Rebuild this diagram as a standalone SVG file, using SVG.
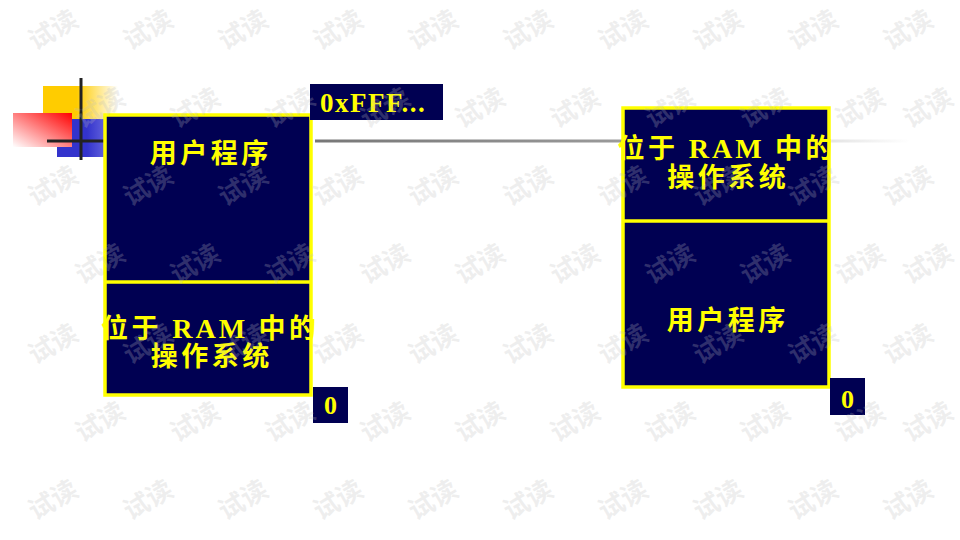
<svg xmlns="http://www.w3.org/2000/svg" width="960" height="540" viewBox="0 0 960 540">
<style>
.mem{fill:#000052;stroke:#ffff00;stroke-width:3.5}
.div{stroke:#ffff00;stroke-width:3.5}
.lbl{fill:#000052}
.cjk{font-family:"Liberation Serif","Noto Sans CJK SC",serif;font-size:27px;font-weight:bold;fill:#ffff00;text-anchor:middle;letter-spacing:3.5px}
.ram{font-family:"Liberation Serif",serif;font-size:28px;font-weight:bold;letter-spacing:3px}
.rom{font-family:"Liberation Serif",serif;font-weight:bold;fill:#ffff00}
.wm{font-family:"Noto Sans CJK SC",sans-serif;font-size:26px;font-weight:bold;fill:#bebebe;fill-opacity:0.25;text-anchor:middle}
</style>
<defs>
<linearGradient id="gY" x1="0" y1="0" x2="1" y2="0"><stop offset="0.45" stop-color="#ffcc00"/><stop offset="1" stop-color="#ffcc00" stop-opacity="0"/></linearGradient>
<linearGradient id="gR" x1="0" y1="1" x2="1" y2="0"><stop offset="0" stop-color="#ffffff"/><stop offset="1" stop-color="#ff0000"/></linearGradient>
<linearGradient id="gB" x1="0" y1="0" x2="1" y2="0"><stop offset="0.6" stop-color="#3333cc"/><stop offset="1" stop-color="#6666dd"/></linearGradient>
<linearGradient id="gL" gradientUnits="userSpaceOnUse" x1="315" y1="0" x2="910" y2="0"><stop offset="0" stop-color="#777777"/><stop offset="0.5" stop-color="#999999"/><stop offset="1" stop-color="#ffffff"/></linearGradient>
</defs>
<rect width="960" height="540" fill="#ffffff"/>
<g id="decoration">
<rect x="43" y="86" width="75" height="33" fill="url(#gY)"/>
<rect x="57" y="119" width="50" height="38" fill="url(#gB)"/>
<rect x="13" y="113" width="59" height="34" fill="url(#gR)"/>
<line x1="81" y1="78" x2="81" y2="160" stroke="#222222" stroke-width="3"/>
<line x1="47" y1="141" x2="106" y2="141" stroke="#222222" stroke-width="3"/>
</g>
<g id="connectors">
<line x1="315" y1="141" x2="910" y2="141" stroke="url(#gL)" stroke-width="3"/>
</g>
<g id="left-memory">
<rect class="mem" x="105" y="115" width="206" height="280"/>
<line class="div" x1="105" y1="282" x2="311" y2="282"/>
<text class="cjk" x="210.75" y="163">用户程序</text>
<text class="cjk" x="210.25" y="337.5">位于 <tspan class="ram">RAM</tspan> 中的</text>
<text class="cjk" x="211.75" y="366">操作系统</text>
</g>
<g id="right-memory">
<rect class="mem" x="623" y="108" width="206" height="279"/>
<line class="div" x1="623" y1="221" x2="829" y2="221"/>
<text class="cjk" x="726.75" y="158">位于 <tspan class="ram">RAM</tspan> 中的</text>
<text class="cjk" x="728.25" y="187">操作系统</text>
<text class="cjk" x="727.75" y="330">用户程序</text>
</g>
<g id="label-top">
<rect class="lbl" x="310" y="84" width="133" height="36"/>
<text class="rom" x="320" y="112" font-size="27" letter-spacing="1.5">0xFFF...</text>
</g>
<g id="label-zero-left">
<rect class="lbl" x="313" y="387" width="35" height="36"/>
<text class="rom" x="330.5" y="413.5" font-size="26" text-anchor="middle">0</text>
</g>
<g id="label-zero-right">
<rect class="lbl" x="830" y="378" width="35" height="37"/>
<text class="rom" x="847.5" y="407.5" font-size="26" text-anchor="middle">0</text>
</g>
<g id="watermark">
<text class="wm" transform="translate(53,30) rotate(-30)" y="9">试读</text>
<text class="wm" transform="translate(148,30) rotate(-30)" y="9">试读</text>
<text class="wm" transform="translate(243,30) rotate(-30)" y="9">试读</text>
<text class="wm" transform="translate(338,30) rotate(-30)" y="9">试读</text>
<text class="wm" transform="translate(433,30) rotate(-30)" y="9">试读</text>
<text class="wm" transform="translate(528,30) rotate(-30)" y="9">试读</text>
<text class="wm" transform="translate(623,30) rotate(-30)" y="9">试读</text>
<text class="wm" transform="translate(718,30) rotate(-30)" y="9">试读</text>
<text class="wm" transform="translate(813,30) rotate(-30)" y="9">试读</text>
<text class="wm" transform="translate(908,30) rotate(-30)" y="9">试读</text>
<text class="wm" transform="translate(100,108) rotate(-30)" y="9">试读</text>
<text class="wm" transform="translate(195,108) rotate(-30)" y="9">试读</text>
<text class="wm" transform="translate(290,108) rotate(-30)" y="9">试读</text>
<text class="wm" transform="translate(385,108) rotate(-30)" y="9">试读</text>
<text class="wm" transform="translate(480,108) rotate(-30)" y="9">试读</text>
<text class="wm" transform="translate(575,108) rotate(-30)" y="9">试读</text>
<text class="wm" transform="translate(670,108) rotate(-30)" y="9">试读</text>
<text class="wm" transform="translate(765,108) rotate(-30)" y="9">试读</text>
<text class="wm" transform="translate(860,108) rotate(-30)" y="9">试读</text>
<text class="wm" transform="translate(928,108) rotate(-30)" y="9">试读</text>
<text class="wm" transform="translate(53,186) rotate(-30)" y="9">试读</text>
<text class="wm" transform="translate(148,186) rotate(-30)" y="9">试读</text>
<text class="wm" transform="translate(243,186) rotate(-30)" y="9">试读</text>
<text class="wm" transform="translate(338,186) rotate(-30)" y="9">试读</text>
<text class="wm" transform="translate(433,186) rotate(-30)" y="9">试读</text>
<text class="wm" transform="translate(528,186) rotate(-30)" y="9">试读</text>
<text class="wm" transform="translate(623,186) rotate(-30)" y="9">试读</text>
<text class="wm" transform="translate(718,186) rotate(-30)" y="9">试读</text>
<text class="wm" transform="translate(813,186) rotate(-30)" y="9">试读</text>
<text class="wm" transform="translate(908,186) rotate(-30)" y="9">试读</text>
<text class="wm" transform="translate(100,264) rotate(-30)" y="9">试读</text>
<text class="wm" transform="translate(195,264) rotate(-30)" y="9">试读</text>
<text class="wm" transform="translate(290,264) rotate(-30)" y="9">试读</text>
<text class="wm" transform="translate(385,264) rotate(-30)" y="9">试读</text>
<text class="wm" transform="translate(480,264) rotate(-30)" y="9">试读</text>
<text class="wm" transform="translate(575,264) rotate(-30)" y="9">试读</text>
<text class="wm" transform="translate(670,264) rotate(-30)" y="9">试读</text>
<text class="wm" transform="translate(765,264) rotate(-30)" y="9">试读</text>
<text class="wm" transform="translate(860,264) rotate(-30)" y="9">试读</text>
<text class="wm" transform="translate(928,264) rotate(-30)" y="9">试读</text>
<text class="wm" transform="translate(53,344) rotate(-30)" y="9">试读</text>
<text class="wm" transform="translate(148,344) rotate(-30)" y="9">试读</text>
<text class="wm" transform="translate(243,344) rotate(-30)" y="9">试读</text>
<text class="wm" transform="translate(338,344) rotate(-30)" y="9">试读</text>
<text class="wm" transform="translate(433,344) rotate(-30)" y="9">试读</text>
<text class="wm" transform="translate(528,344) rotate(-30)" y="9">试读</text>
<text class="wm" transform="translate(623,344) rotate(-30)" y="9">试读</text>
<text class="wm" transform="translate(718,344) rotate(-30)" y="9">试读</text>
<text class="wm" transform="translate(813,344) rotate(-30)" y="9">试读</text>
<text class="wm" transform="translate(908,344) rotate(-30)" y="9">试读</text>
<text class="wm" transform="translate(100,422) rotate(-30)" y="9">试读</text>
<text class="wm" transform="translate(195,422) rotate(-30)" y="9">试读</text>
<text class="wm" transform="translate(290,422) rotate(-30)" y="9">试读</text>
<text class="wm" transform="translate(385,422) rotate(-30)" y="9">试读</text>
<text class="wm" transform="translate(480,422) rotate(-30)" y="9">试读</text>
<text class="wm" transform="translate(575,422) rotate(-30)" y="9">试读</text>
<text class="wm" transform="translate(670,422) rotate(-30)" y="9">试读</text>
<text class="wm" transform="translate(765,422) rotate(-30)" y="9">试读</text>
<text class="wm" transform="translate(860,422) rotate(-30)" y="9">试读</text>
<text class="wm" transform="translate(928,422) rotate(-30)" y="9">试读</text>
<text class="wm" transform="translate(53,500) rotate(-30)" y="9">试读</text>
<text class="wm" transform="translate(148,500) rotate(-30)" y="9">试读</text>
<text class="wm" transform="translate(243,500) rotate(-30)" y="9">试读</text>
<text class="wm" transform="translate(338,500) rotate(-30)" y="9">试读</text>
<text class="wm" transform="translate(433,500) rotate(-30)" y="9">试读</text>
<text class="wm" transform="translate(528,500) rotate(-30)" y="9">试读</text>
<text class="wm" transform="translate(623,500) rotate(-30)" y="9">试读</text>
<text class="wm" transform="translate(718,500) rotate(-30)" y="9">试读</text>
<text class="wm" transform="translate(813,500) rotate(-30)" y="9">试读</text>
<text class="wm" transform="translate(908,500) rotate(-30)" y="9">试读</text>
</g>
</svg>
